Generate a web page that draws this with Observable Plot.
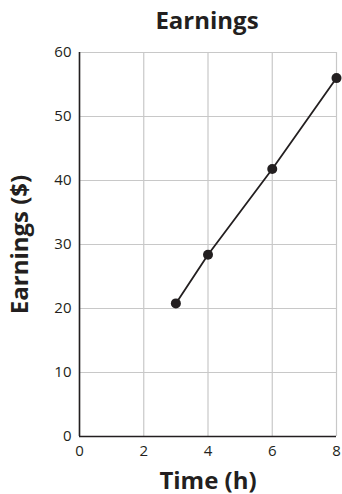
<!DOCTYPE html>
<html>
<head>
<meta charset="utf-8">
<script src="https://cdn.jsdelivr.net/npm/d3@7"></script>
<script src="https://cdn.jsdelivr.net/npm/@observablehq/plot@0.6"></script>
<style>
  html, body { margin: 0; padding: 0; background: #fff; }
  #wrap { width: 342px; height: 494px; overflow: hidden; font-family: "Open Sans", sans-serif; color: #231f20; }
  #title { height: 40px; box-sizing: border-box; padding-left: 72px; padding-top: 5px; text-align: center; font-weight: bold; font-size: 24px; line-height: 30px; }
  #chart svg [aria-label="x-axis label"] text, #chart svg [aria-label="y-axis label"] text { font-size: 24px; font-weight: bold; }
</style>
</head>
<body>
<div id="wrap">
  <div id="title">Earnings</div>
  <div id="chart"></div>
</div>
<script>
const hours = [3, 4, 6, 8];
const earnings = [20.8, 28.4, 41.8, 56];
const xTicks = [0, 2, 4, 6, 8];
const yTicks = [0, 10, 20, 30, 40, 50, 60];

const data = hours.map((h, i) => ({hours: h, earnings: earnings[i]}));
const ink = "#231f20";
const gridColor = "#c8c8c8";

const chart = Plot.plot({
  width: 342,
  height: 454,
  marginTop: 12,
  marginBottom: 58,
  marginLeft: 79,
  marginRight: 6,
  style: {fontFamily: "Open Sans, sans-serif", fontSize: "15px", color: ink, background: "white", overflow: "visible"},
  x: {domain: [0, 8]},
  y: {domain: [0, 60]},
  marks: [
    Plot.ruleX(xTicks, {stroke: gridColor, strokeWidth: 1.2}),
    Plot.ruleY(yTicks, {stroke: gridColor, strokeWidth: 1.2}),
    Plot.ruleX([0], {stroke: ink, strokeWidth: 1.6}),
    Plot.ruleY([0], {stroke: ink, strokeWidth: 1.6}),
    Plot.axisX({ticks: xTicks, tickSize: 0, tickPadding: 9, label: "Time (h)", labelArrow: "none", labelAnchor: "center", labelOffset: 52}),
    Plot.axisY({ticks: yTicks, tickSize: 0, tickPadding: 8, label: "Earnings ($)", labelArrow: "none", labelAnchor: "center", labelOffset: 69}),
    Plot.line(data, {x: "hours", y: "earnings", stroke: ink, strokeWidth: 1.8}),
    Plot.dot(data, {x: "hours", y: "earnings", r: 5, fill: ink})
  ]
});
document.getElementById("chart").appendChild(chart);
</script>
</body>
</html>
